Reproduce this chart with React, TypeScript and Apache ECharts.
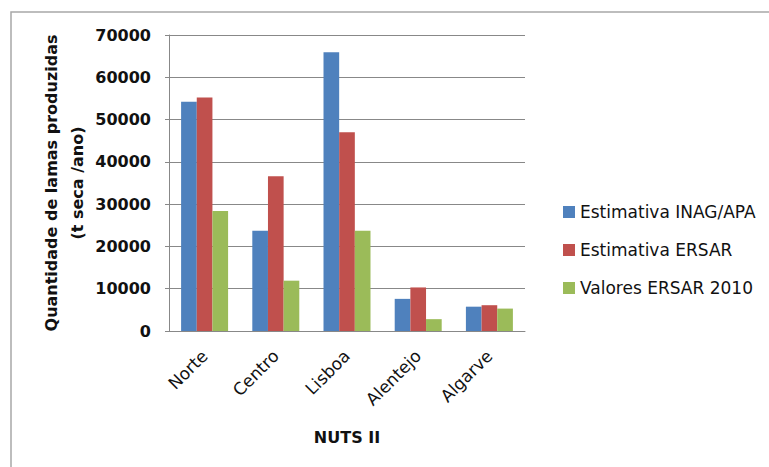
import React, { useEffect, useRef } from "react";
import * as echarts from "echarts";

const categories = ["Norte", "Centro", "Lisboa", "Alentejo", "Algarve"];
const seriesNames = ["Estimativa INAG/APA", "Estimativa ERSAR", "Valores ERSAR 2010"];
const inagApa = [54200, 23700, 65900, 7600, 5750];
const ersarEst = [55200, 36600, 47000, 10300, 6100];
const ersar2010 = [28400, 11900, 23700, 2800, 5300];
const colors = ["#4F81BD", "#C0504D", "#9BBB59"];

export default function App() {
  const ref = useRef<HTMLDivElement>(null);
  useEffect(() => {
    if (!ref.current) return;
    const chart = echarts.init(ref.current, undefined, { renderer: "svg" });
    const font = "DejaVu Sans";
    const data = [inagApa, ersarEst, ersar2010];
    chart.setOption({
      animation: false,
      backgroundColor: "#ffffff",
      textStyle: { fontFamily: font },
      grid: { left: 169, right: 244, top: 35, bottom: 136 },
      graphic: [
        {
          type: "rect",
          shape: { x: 11, y: 12, width: 800, height: 500 },
          style: { fill: "none", stroke: "#a8a8a8", lineWidth: 1.5 },
          silent: true,
          z: -10,
        },
      ],
      legend: {
        orient: "vertical",
        left: 558,
        top: 198,
        itemWidth: 12,
        itemHeight: 12,
        itemGap: 20,
        icon: "rect",
        textStyle: { fontFamily: font, fontSize: 17, color: "#111", lineHeight: 18 },
        data: seriesNames,
      },
      xAxis: {
        type: "category",
        data: categories,
        name: "NUTS II",
        nameLocation: "middle",
        nameGap: 98,
        nameTextStyle: { fontFamily: font, fontSize: 16, fontWeight: "bold", color: "#111" },
        axisLine: { show: true, lineStyle: { color: "#888", width: 1 } },
        axisTick: { show: false },
        axisLabel: { rotate: 45, margin: 22, fontFamily: font, fontSize: 17, color: "#111", interval: 0 },
      },
      yAxis: {
        type: "value",
        min: 0,
        max: 70000,
        interval: 10000,
        name: "Quantidade de lamas produzidas\n(t seca /ano)",
        nameLocation: "middle",
        nameRotate: 90,
        nameGap: 79,
        nameTextStyle: { fontFamily: font, fontSize: 16, fontWeight: "bold", color: "#111", lineHeight: 26, align: "center" },
        axisLine: { show: true, lineStyle: { color: "#888", width: 1 } },
        axisTick: { show: true, length: 4, lineStyle: { color: "#888" } },
        splitLine: { show: true, lineStyle: { color: "#888", width: 1 } },
        axisLabel: {
          margin: 18,
          fontFamily: font,
          fontSize: 16,
          fontWeight: "bold",
          color: "#111",
          formatter: (v: number) => String(v),
        },
      },
      series: seriesNames.map((name, i) => ({
        name,
        type: "bar",
        data: data[i],
        barGap: "0%",
        barCategoryGap: "34%",
        itemStyle: { color: colors[i] },
      })),
    });
    return () => chart.dispose();
  }, []);
  return (
    <div
      ref={ref}
      style={{ position: "fixed", left: 0, top: 0, width: 769, height: 467 }}
    />
  );
}
